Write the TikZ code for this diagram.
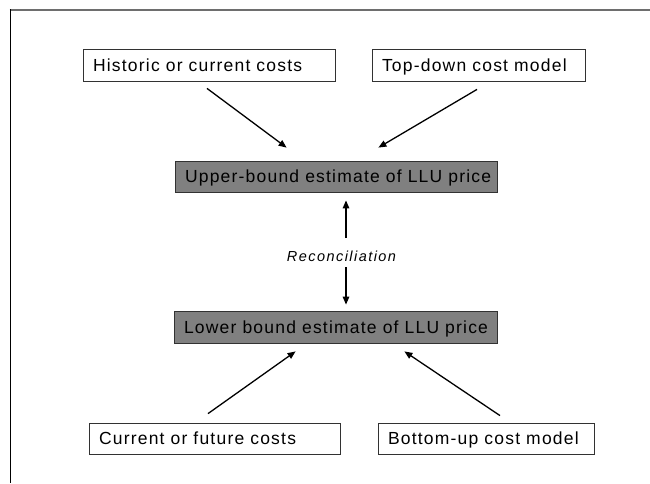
\documentclass[tikz,border=0pt]{standalone}
\usepackage{fontspec}
\setmainfont{Liberation Sans}
\newfontfamily\lblfamily{Liberation Sans}[LetterSpace=6.9]
\newfontfamily\recfamily{Liberation Sans}[LetterSpace=10]
\usetikzlibrary{arrows.meta,calc}
\definecolor{boxgray}{RGB}{128,128,128}
\definecolor{frametop}{RGB}{110,110,110}
\definecolor{boxline}{RGB}{50,50,50}
\newcommand{\boxfont}{\lblfamily\fontsize{17.5}{20}\selectfont}
\newcommand{\reconfont}{\recfamily\itshape\fontsize{14.5}{17}\selectfont}
\newcommand{\lb}[2]{\makebox[\dimexpr#1pt-20pt\relax][l]{#2}}
\begin{document}
\begin{tikzpicture}[x=1pt,y=-1pt,
  box/.style={draw=boxline, line width=0.8pt, fill=white, minimum height=32pt,
    inner xsep=10pt, inner ysep=0pt, font=\boxfont, text height=12.5pt, text depth=0pt},
  gbox/.style={box, fill=boxgray},
  conn/.style={line width=1.3pt, -{Triangle[length=8pt,width=6.5pt]}},
]
\fill[white] (0,0) rectangle (650,483);
\useasboundingbox (0,0) rectangle (650,483);
\draw[line width=2pt, color=frametop] (9.7,9.5) -- (650,9.5);
\draw[line width=1.3pt] (10.7,9) -- (10.7,483);

\node[box] (hist) at (209,65) {\lb{252}{Historic or current costs}};
\node[box] (top) at (478.5,65) {\lb{213}{Top-down cost model}};
\node[gbox, minimum height=31pt] (upper) at (336,176.5) {\lb{322}{Upper-bound estimate of LLU price}};
\node[gbox] (lower) at (335.5,327) {\lb{323}{Lower bound estimate of LLU price}};
\node[box, minimum height=31pt] (curr) at (214.5,438.5) {\lb{251}{Current or future costs}};
\node[box, minimum height=31pt] (bott) at (486,438.5) {\lb{216}{Bottom-up cost model}};
\node[font=\reconfont, inner sep=0pt] (recon) at (341.5,256) {Reconciliation};

\draw[conn] ($(hist.south)+(-2,7)$) -- ($(upper.north west)+(112,-13)$);
\draw[conn] ($(top.south)+(-1.5,8)$) -- ($(upper.north east)+(-119,-13)$);
\draw[conn] ($(curr.north)+(-6.5,-9)$) -- ($(lower.south west)+(122,8)$);
\draw[conn] ($(bott.north)+(14,-7)$) -- ($(lower.south east)+(-93,8)$);
\draw[conn] ($(recon.center)+(4.5,-18)$) -- ($(upper.south)+(10,8)$);
\draw[conn] ($(recon.center)+(4.5,11)$) -- ($(lower.north)+(10.5,-6)$);
\end{tikzpicture}
\end{document}
